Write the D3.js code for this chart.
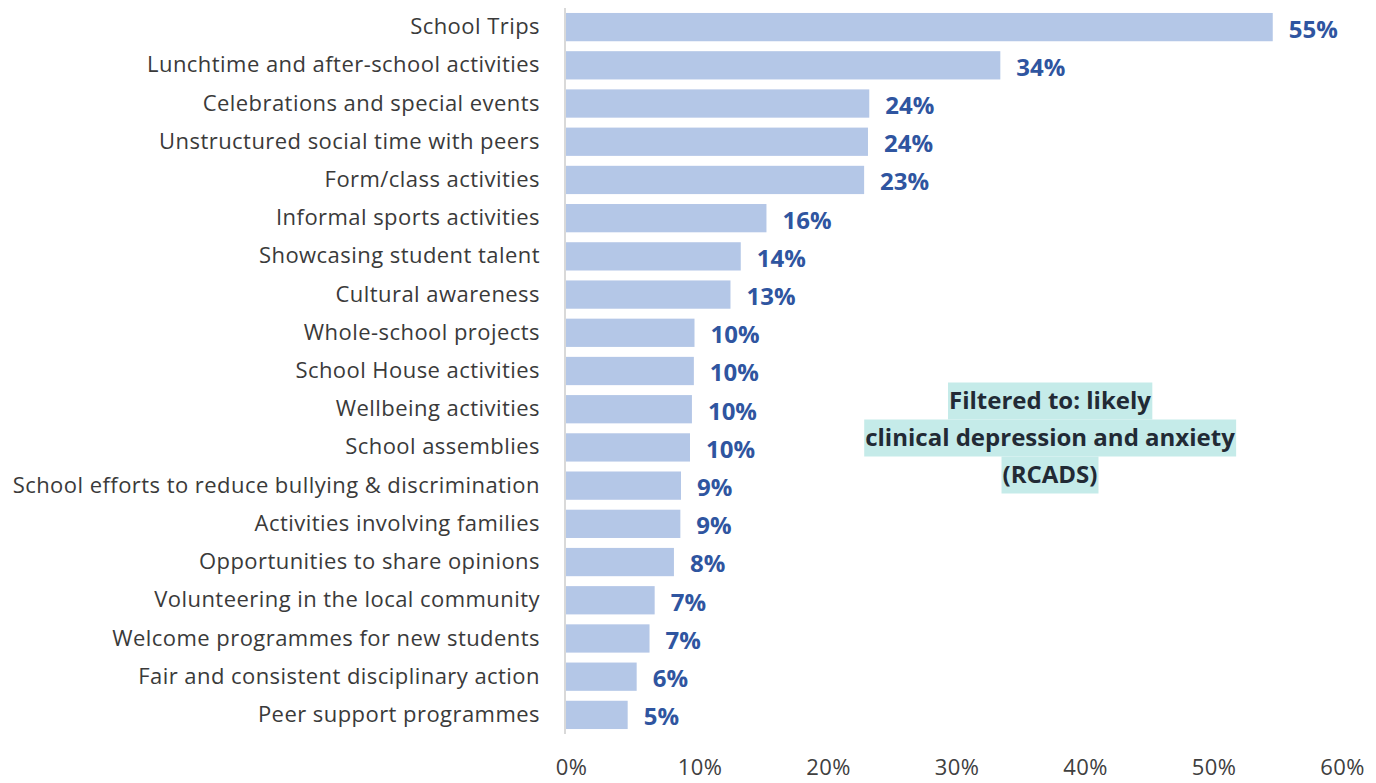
<html>
<head>
<script src="https://d3js.org/d3.v7.min.js"></script>
<style>
body { margin: 0; background: #fff; }
text { font-family: "Open Sans", sans-serif; }
</style>
</head>
<body>
<svg id="chart" width="1376" height="783"></svg>
<script>
// categories top to bottom
var categories = [
  "School Trips",
  "Lunchtime and after-school activities",
  "Celebrations and special events",
  "Unstructured social time with peers",
  "Form/class activities",
  "Informal sports activities",
  "Showcasing student talent",
  "Cultural awareness",
  "Whole-school projects",
  "School House activities",
  "Wellbeing activities",
  "School assemblies",
  "School efforts to reduce bullying & discrimination",
  "Activities involving families",
  "Opportunities to share opinions",
  "Volunteering in the local community",
  "Welcome programmes for new students",
  "Fair and consistent disciplinary action",
  "Peer support programmes"
];
var values = [55.0, 33.8, 23.6, 23.5, 23.2, 15.6, 13.6, 12.8, 10.0, 9.95, 9.8, 9.65, 8.95, 8.9, 8.4, 6.9, 6.5, 5.5, 4.8];
var xTicks = [0, 10, 20, 30, 40, 50, 60];
var note = ["Filtered to: likely", "clinical depression and anxiety", "(RCADS)"];

var svg = d3.select("#chart");

var x = d3.scaleLinear().domain([0, 60]).range([566, 1337]);
var y = d3.scaleBand().domain(categories).range([8, 734]).paddingInner(0.26).paddingOuter(0.13);

// bars
svg.append("g").selectAll("rect")
  .data(categories)
  .enter().append("rect")
  .attr("x", x(0))
  .attr("y", function(d) { return y(d); })
  .attr("width", function(d, i) { return x(values[i]) - x(0); })
  .attr("height", y.bandwidth())
  .attr("fill", "#b4c7e7");

// value labels
svg.append("g").selectAll("text")
  .data(categories)
  .enter().append("text")
  .attr("x", function(d, i) { return x(values[i]) + 16; })
  .attr("y", function(d) { return y(d) + y.bandwidth() / 2 + 2; })
  .attr("dy", "0.35em")
  .style("font-size", "24px")
  .style("font-weight", "bold")
  .style("fill", "#2f55a0")
  .text(function(d, i) { return Math.round(values[i]) + "%"; });

// category labels
var yAxis = d3.axisLeft(y).tickSize(0).tickPadding(26);
var gy = svg.append("g").attr("transform", "translate(" + x(0) + ",0)").call(yAxis);
gy.select(".domain").remove();
gy.selectAll("text")
  .style("font-size", "22px")
  .style("letter-spacing", "0.45px")
  .style("fill", "#3a3a3a")
  .style("font-family", "'Open Sans', sans-serif");

// vertical axis line
svg.append("line")
  .attr("x1", x(0) - 1).attr("x2", x(0) - 1)
  .attr("y1", 8).attr("y2", 734)
  .attr("stroke", "#d9d9d9").attr("stroke-width", 2);

// x tick labels
var xAxis = d3.axisBottom(x).tickValues(xTicks).tickSize(0).tickPadding(0)
  .tickFormat(function(d) { return d + "%"; });
var gx = svg.append("g").attr("transform", "translate(5,775)").call(xAxis);
gx.select(".domain").remove();
gx.selectAll("text").attr("dy", 0)
  .style("font-size", "22px")
  .style("letter-spacing", "0.4px")
  .style("fill", "#404040")
  .style("font-family", "'Open Sans', sans-serif");

// annotation
var noteG = svg.append("g");
var lineY = [401, 438, 475];
note.forEach(function(t, i) {
  var txt = noteG.append("text")
    .attr("x", 1050).attr("y", lineY[i])
    .attr("dy", "0.35em")
    .attr("text-anchor", "middle")
    .style("font-size", "24px")
    .style("font-weight", "bold")
    .style("fill", "#222a35")
    .text(t);
  var bb = txt.node().getBBox();
  noteG.insert("rect", "text")
    .attr("x", bb.x - 1).attr("y", lineY[i] - 18.5)
    .attr("width", bb.width + 2).attr("height", 37)
    .attr("fill", "#c5ebe9");
});
</script>
</body>
</html>
